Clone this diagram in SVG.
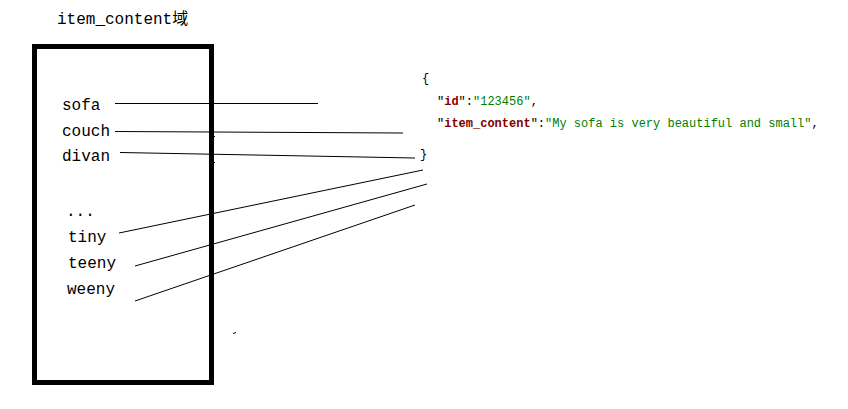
<svg xmlns="http://www.w3.org/2000/svg" width="848" height="409" viewBox="0 0 848 409">
<style>
.w{font-family:"Liberation Mono","Noto Sans CJK SC",monospace;font-size:16px;fill:#000}
.j{font-family:"Liberation Mono",monospace;font-size:12px;fill:#000}
.k{font-weight:bold;fill:#800000}
.v{fill:#008000}
.c{stroke:#000;stroke-width:1;fill:none}
</style>
<rect width="848" height="409" fill="#fff"/>
<g id="title"><text class="w" x="57" y="24">item_content域</text></g>
<g id="box">
<rect x="34.5" y="46.5" width="177" height="336" fill="none" stroke="#000" stroke-width="5"/>
<text class="w" x="62" y="110">sofa</text>
<text class="w" x="62" y="136">couch</text>
<text class="w" x="62" y="161">divan</text>
<text class="w" x="66" y="216">...</text>
<text class="w" x="68" y="242">tiny</text>
<text class="w" x="68" y="268">teeny</text>
<text class="w" x="67" y="294">weeny</text>
</g>
<g id="json">
<text class="j" x="422" y="82">{</text>
<text class="j" x="437" y="105">"<tspan class="k">id</tspan>":<tspan class="v">"123456"</tspan>,</text>
<text class="j" x="437" y="127">"<tspan class="k">item_content</tspan>":<tspan class="v">"My sofa is very beautiful and small"</tspan>,</text>
<text class="j" x="420" y="158">}</text>
</g>
<g id="connectors">
<line class="c" x1="115" y1="103.5" x2="318" y2="103.5"/>
<line class="c" x1="115" y1="131.5" x2="403" y2="133"/>
<line class="c" x1="120" y1="152.5" x2="415" y2="158"/>
<line class="c" x1="119" y1="233" x2="423" y2="170"/>
<line class="c" x1="135" y1="266" x2="427" y2="184"/>
<line class="c" x1="135" y1="301" x2="415" y2="205"/>
<line class="c" x1="209" y1="136.5" x2="215" y2="136.5"/>
<line class="c" x1="209" y1="162.5" x2="215" y2="162.5"/>
<line class="c" x1="233" y1="333.5" x2="236" y2="332.5"/>
</g>
</svg>
